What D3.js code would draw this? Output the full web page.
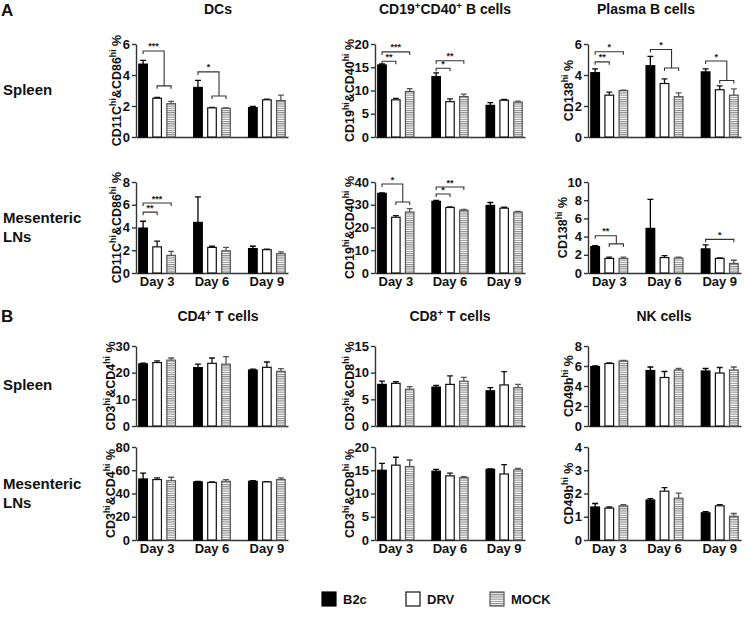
<!DOCTYPE html>
<html>
<head>
<meta charset="utf-8">
<script src="https://cdn.jsdelivr.net/npm/d3@7"></script>
<style>
  body { margin: 0; background: #fff; }
  svg { display: block; font-family: "Liberation Sans", Arial, sans-serif; font-weight: bold; }
</style>
</head>
<body>
<div id="chart"></div>
<script>
// categories
const days   = ["Day 3", "Day 6", "Day 9"];
const groups = ["B2c", "DRV", "MOCK"];

// values: one row per day, columns B2c / DRV / MOCK
const dcSpleenMean   = [[4.7, 2.5, 2.15], [3.2, 1.88, 1.85], [1.9, 2.4, 2.35]];
const dcSpleenErr    = [[0.25, 0.05, 0.15], [0.45, 0.03, 0.03], [0.08, 0.05, 0.35]];
const bSpleenMean    = [[15.5, 8.0, 9.8], [13.0, 7.6, 8.7], [6.8, 7.9, 7.5]];
const bSpleenErr     = [[0.2, 0.3, 0.6], [0.8, 0.6, 0.5], [0.6, 0.2, 0.2]];
const pcSpleenMean   = [[4.15, 2.7, 3.0], [4.6, 3.45, 2.6], [4.2, 3.05, 2.7]];
const pcSpleenErr    = [[0.25, 0.2, 0.03], [0.6, 0.3, 0.25], [0.2, 0.25, 0.4]];
const dcMlnMean      = [[3.95, 2.3, 1.55], [4.45, 2.25, 1.95], [2.15, 2.05, 1.7]];
const dcMlnErr       = [[0.6, 0.5, 0.35], [2.25, 0.1, 0.3], [0.2, 0.05, 0.15]];
const bMlnMean       = [[35, 24.5, 26.8], [31.5, 28.8, 27.6], [29.7, 28.5, 26.8]];
const bMlnErr        = [[0.2, 0.7, 1.5], [0.4, 0.3, 0.4], [1.3, 0.4, 0.3]];
const pcMlnMean      = [[2.9, 1.6, 1.6], [4.9, 1.7, 1.65], [2.65, 1.6, 1.05]];
const pcMlnErr       = [[0.1, 0.15, 0.15], [3.2, 0.2, 0.1], [0.45, 0.05, 0.35]];
const cd4SpleenMean  = [[23.3, 23.8, 24.7], [21.9, 23.5, 23.2], [21.0, 22.0, 20.5]];
const cd4SpleenErr   = [[0.3, 0.6, 0.8], [1.3, 2.0, 2.8], [0.3, 2.0, 1.0]];
const cd8SpleenMean  = [[7.8, 8.0, 6.9], [7.3, 7.8, 8.4], [6.6, 7.7, 7.2]];
const cd8SpleenErr   = [[0.6, 0.3, 0.5], [0.3, 1.6, 0.7], [0.6, 2.5, 0.6]];
const nkSpleenMean   = [[5.95, 6.25, 6.5], [5.55, 4.85, 5.6], [5.5, 5.3, 5.6]];
const nkSpleenErr    = [[0.05, 0.05, 0.05], [0.35, 0.6, 0.15], [0.25, 0.55, 0.3]];
const cd4MlnMean     = [[52.5, 52, 51], [50, 49.5, 50.5], [50.5, 50, 52]];
const cd4MlnErr      = [[5, 1.5, 3], [0.5, 0.5, 1.5], [0.5, 0.3, 1.5]];
const cd8MlnMean     = [[15.0, 16.1, 15.8], [14.8, 13.8, 13.4], [15.2, 14.2, 15.1]];
const cd8MlnErr      = [[1.5, 1.7, 1.4], [0.4, 0.6, 0.2], [0.1, 2.0, 0.3]];
const nkMlnMean      = [[1.42, 1.37, 1.47], [1.72, 2.1, 1.8], [1.17, 1.47, 1.02]];
const nkMlnErr       = [[0.15, 0.05, 0.05], [0.06, 0.15, 0.22], [0.05, 0.05, 0.12]];

// tick labels
const ticks6  = [0, 2, 4, 6];
const ticks8  = [0, 2, 4, 6, 8];
const ticks10 = [0, 2, 4, 6, 8, 10];
const ticks20 = [0, 5, 10, 15, 20];
const ticks30 = [0, 10, 20, 30];
const ticks40 = [0, 10, 20, 30, 40];
const ticks15 = [0, 5, 10, 15];
const ticks80 = [0, 20, 40, 60, 80];
const ticks4  = [0, 1, 2, 3, 4];

// significance marks: b is a group index or a pair of groups (combined bracket), y/y2 in data units
const dcSpleenSig = [{day: 0, b: [1, 2], y: 5.55, y2: 3.3, label: "***"},
                     {day: 1, b: [1, 2], y: 4.2, y2: 2.65, label: "*"}];
const bSpleenSig  = [{day: 0, b: 2, y: 18.3, label: "***"}, {day: 0, b: 1, y: 16.3, label: "**"},
                     {day: 1, b: 2, y: 16.4, label: "**"}, {day: 1, b: 1, y: 14.8, label: "*"}];
const pcSpleenSig = [{day: 0, b: 2, y: 5.5, label: "*"}, {day: 0, b: 1, y: 4.85, label: "**"},
                     {day: 1, b: [1, 2], y: 5.65, y2: 4.45, label: "*"},
                     {day: 2, b: [1, 2], y: 4.9, y2: 3.65, label: "*"}];
const dcMlnSig    = [{day: 0, b: 2, y: 6.15, label: "***"}, {day: 0, b: 1, y: 5.35, label: "**"}];
const bMlnSig     = [{day: 0, b: [1, 2], y: 39.1, y2: 31.2, label: "*"},
                     {day: 1, b: 2, y: 37.8, label: "**"}, {day: 1, b: 1, y: 34.7, label: "*"}];
const pcMlnSig    = [{day: 0, b: [1, 2], y: 4.1, y2: 3.2, label: "**"},
                     {day: 2, b: 2, y: 3.7, label: "*"}];

// layout
const colX = [136, 375, 588];
const colW = [152, 150, 153];
const rowY = [[44, 137], [182, 273], [346, 426], [447, 540]];

const sup = s => [s, 1];
const panels = [
  {row: 0, col: 0, tx: 218, title: [["DCs", 0]], ylab: [["CD11C", 0], sup("hi"), ["&CD86", 0], sup("hi"), [" %", 0]],
   mean: dcSpleenMean, err: dcSpleenErr, ticks: ticks6, sig: dcSpleenSig},
  {row: 0, col: 1, tx: 445, title: [["CD19", 0], sup("+"), ["CD40", 0], sup("+"), [" B cells", 0]],
   ylab: [["CD19", 0], sup("hi"), ["&CD40", 0], sup("hi"), [" %", 0]], mean: bSpleenMean, err: bSpleenErr, ticks: ticks20, sig: bSpleenSig},
  {row: 0, col: 2, tx: 646, title: [["Plasma B cells", 0]], ylab: [["CD138", 0], sup("hi"), [" %", 0]],
   mean: pcSpleenMean, err: pcSpleenErr, ticks: ticks6, sig: pcSpleenSig},
  {row: 1, col: 0, ylab: [["CD11C", 0], sup("hi"), ["&CD86", 0], sup("hi"), [" %", 0]],
   mean: dcMlnMean, err: dcMlnErr, ticks: ticks8, sig: dcMlnSig, days: true},
  {row: 1, col: 1, ylab: [["CD19", 0], sup("hi"), ["&CD40", 0], sup("hi"), [" %", 0]],
   mean: bMlnMean, err: bMlnErr, ticks: ticks40, sig: bMlnSig, days: true},
  {row: 1, col: 2, ylab: [["CD138", 0], sup("hi"), [" %", 0]],
   mean: pcMlnMean, err: pcMlnErr, ticks: ticks10, sig: pcMlnSig, days: true},
  {row: 2, col: 0, tx: 218, title: [["CD4", 0], sup("+"), [" T cells", 0]],
   ylab: [["CD3", 0], sup("hi"), ["&CD4", 0], sup("hi"), [" %", 0]], mean: cd4SpleenMean, err: cd4SpleenErr, ticks: ticks30},
  {row: 2, col: 1, tx: 450, title: [["CD8", 0], sup("+"), [" T cells", 0]],
   ylab: [["CD3", 0], sup("hi"), ["&CD8", 0], sup("hi"), [" %", 0]], mean: cd8SpleenMean, err: cd8SpleenErr, ticks: ticks15},
  {row: 2, col: 2, tx: 664, title: [["NK cells", 0]], ylab: [["CD49b", 0], sup("hi"), [" %", 0]],
   mean: nkSpleenMean, err: nkSpleenErr, ticks: ticks8},
  {row: 3, col: 0, ylab: [["CD3", 0], sup("hi"), ["&CD4", 0], sup("hi"), [" %", 0]],
   mean: cd4MlnMean, err: cd4MlnErr, ticks: ticks80, days: true},
  {row: 3, col: 1, ylab: [["CD3", 0], sup("hi"), ["&CD8", 0], sup("hi"), [" %", 0]],
   mean: cd8MlnMean, err: cd8MlnErr, ticks: ticks20, days: true},
  {row: 3, col: 2, ylab: [["CD49b", 0], sup("hi"), [" %", 0]],
   mean: nkMlnMean, err: nkMlnErr, ticks: ticks4, days: true}
];

const width = 750, height = 625;
const svg = d3.select("#chart").append("svg")
    .attr("width", width).attr("height", height);

// horizontal hatch for MOCK
const pat = svg.append("defs").append("pattern").attr("id", "hatch")
    .attr("patternUnits", "userSpaceOnUse").attr("width", 4).attr("height", 2.2);
pat.append("rect").attr("width", 4).attr("height", 2.2).attr("fill", "#fff");
pat.append("rect").attr("width", 4).attr("height", 1.1).attr("fill", "#8a8a8a");

const fillOf   = i => ["#000", "#fff", "url(#hatch)"][i];
const strokeOf = i => ["#000", "#111", "#555"][i];

function richText(sel, parts, size) {
  let up = false;
  parts.forEach(([s, isSup]) => {
    const t = sel.append("tspan").text(s);
    if (isSup && !up) { t.attr("dy", -size * 0.38).style("font-size", (size * 0.7) + "px"); up = true; }
    else if (!isSup && up) { t.attr("dy", size * 0.38); up = false; }
    else if (isSup) t.style("font-size", (size * 0.7) + "px");
  });
}

function drawPanel(p) {
  const x0 = colX[p.col], W = colW[p.col];
  const [yTop, yZero] = rowY[p.row];
  const g = svg.append("g");

  const y = d3.scaleLinear().domain([0, d3.max(p.ticks)]).range([yZero, yTop]);
  const xDay = d3.scaleBand().domain(days).range([x0, x0 + W]).paddingInner(0.31).paddingOuter(0.04);
  const xGrp = d3.scaleBand().domain(groups).range([0, xDay.bandwidth()]).paddingInner(0.3);

  // y axis
  const ya = g.append("g").attr("transform", `translate(${x0},0)`)
      .call(d3.axisLeft(y).tickValues(p.ticks).tickFormat(d3.format("d"))
          .tickSize(4).tickPadding(2).tickSizeOuter(0));
  ya.selectAll("path,line").attr("stroke", "#333").attr("stroke-width", 1.4);
  ya.selectAll("text").attr("fill", "#111").style("font-size", "13px").style("font-weight", "bold");
  let tw = 0;
  ya.selectAll("text").each(function() { tw = Math.max(tw, this.getBBox().width); });

  // x axis
  const xa = g.append("g").attr("transform", `translate(0,${yZero})`)
      .call(d3.axisBottom(xDay).tickSize(0).tickPadding(4).tickSizeOuter(0));
  xa.select(".domain").attr("stroke", "#333").attr("stroke-width", 1.4);
  xa.selectAll("text").attr("fill", "#111").style("font-size", "13px").style("font-weight", "bold")
      .style("display", p.days ? null : "none");

  // y label
  const yl = g.append("text")
      .attr("transform", `translate(${x0 - tw - 7},${(yTop + yZero) / 2}) rotate(-90)`)
      .attr("text-anchor", "middle").attr("fill", "#111").style("font-size", "12.5px");
  richText(yl, p.ylab, 12.5);

  // title
  if (p.title) {
    const tt = g.append("text").attr("x", p.tx).attr("y", p.row === 0 ? 14 : 321)
        .attr("text-anchor", "middle").attr("fill", "#111").style("font-size", "14px");
    richText(tt, p.title, 14);
  }

  const rows = [];
  p.mean.forEach((r, di) => r.forEach((v, gi) => rows.push({di, gi, v, e: p.err[di][gi]})));
  const bx = d => xDay(days[d.di]) + xGrp(groups[d.gi]);
  const cx = (di, gi) => xDay(days[di]) + xGrp(groups[gi]) + xGrp.bandwidth() / 2;

  // error bars (upper only)
  g.selectAll("path.err").data(rows).join("path").attr("class", "err")
      .attr("d", d => {
        const c = cx(d.di, d.gi), w = xGrp.bandwidth() * 0.3;
        return `M${c},${y(d.v)}V${y(d.v + d.e)}M${c - w},${y(d.v + d.e)}H${c + w}`;
      })
      .attr("stroke", d => strokeOf(d.gi)).attr("stroke-width", 1.3).attr("fill", "none");

  g.selectAll("rect.bar").data(rows).join("rect").attr("class", "bar")
      .attr("x", d => bx(d) + 0.6).attr("width", xGrp.bandwidth() - 1.2)
      .attr("y", d => y(d.v)).attr("height", d => yZero - y(d.v))
      .attr("fill", d => fillOf(d.gi)).attr("stroke", d => strokeOf(d.gi)).attr("stroke-width", 1.2);

  // significance brackets
  (p.sig || []).forEach(s => {
    const xa0 = cx(s.day, 0), yL = y(s.y);
    let xb;
    if (Array.isArray(s.b)) {
      const x1 = cx(s.day, s.b[0]), x2 = cx(s.day, s.b[1]), y2 = y(s.y2);
      xb = (x1 + x2) / 2;
      g.append("path").attr("d", `M${x1},${y2 + 3}V${y2}H${x2}V${y2 + 3}M${xa0},${yL + 3}V${yL}H${xb}V${y2}`)
          .attr("fill", "none").attr("stroke", "#333").attr("stroke-width", 1.1);
    } else {
      xb = cx(s.day, s.b);
      g.append("path").attr("d", `M${xa0},${yL + 3}V${yL}H${xb}V${yL + 3}`)
          .attr("fill", "none").attr("stroke", "#333").attr("stroke-width", 1.1);
    }
    g.append("text").attr("x", (xa0 + xb) / 2).attr("y", yL - 1.5)
        .attr("text-anchor", "middle").attr("fill", "#222").style("font-size", "9px").text(s.label);
  });
}

panels.forEach(drawPanel);

// section letters and row labels
svg.append("text").attr("x", 1).attr("y", 16).style("font-size", "17px").attr("fill", "#111").text("A");
svg.append("text").attr("x", 1).attr("y", 322).style("font-size", "17px").attr("fill", "#111").text("B");
const rowLab = svg.append("g").style("font-size", "15px").attr("fill", "#111");
[[0, ["Spleen"]], [1, ["Mesenteric", "LNs"]], [2, ["Spleen"]], [3, ["Mesenteric", "LNs"]]].forEach(([r, lines]) => {
  const c = (rowY[r][0] + rowY[r][1]) / 2;
  lines.forEach((l, i) => rowLab.append("text").attr("x", 3)
      .attr("y", c + 4 - (lines.length - 1) * 9 + i * 19).text(l));
});

// legend
const lg = svg.append("g").attr("transform", "translate(0,592)");
const lx = d3.scalePoint().domain(groups).range([322, 490]);
groups.forEach((k, i) => {
  lg.append("rect").attr("x", lx(k)).attr("y", 0).attr("width", 14).attr("height", 14)
      .attr("fill", fillOf(i)).attr("stroke", strokeOf(i)).attr("stroke-width", 1.2);
  lg.append("text").attr("x", lx(k) + 21).attr("y", 12).style("font-size", "13px").attr("fill", "#111").text(k);
});
</script>
</body>
</html>
